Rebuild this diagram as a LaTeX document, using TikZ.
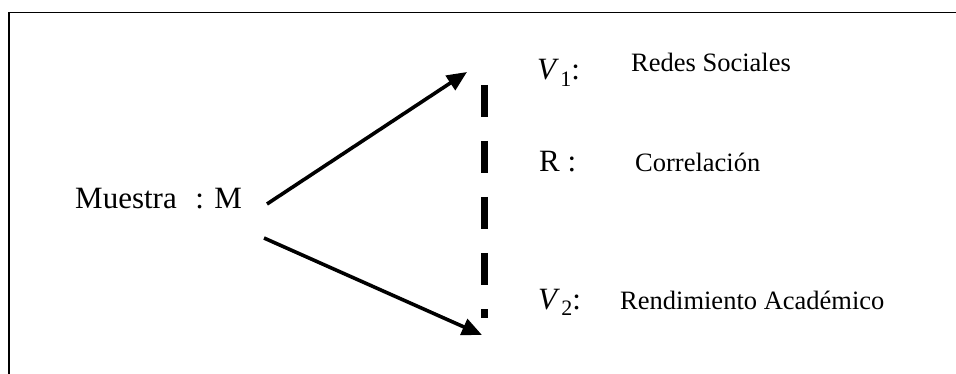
\documentclass[tikz,border=0pt]{standalone}
\usepackage{fontspec}
\setmainfont{Liberation Serif}
\usetikzlibrary{arrows.meta}
\newcommand{\vsub}[1]{\textit{V}\kern0.04em\raisebox{-0.22em}{\fontsize{22}{26}\selectfont #1}}
\begin{document}
\begin{tikzpicture}[x=1pt,y=-1pt,
  big/.style={anchor=base west,inner sep=0pt,font=\fontsize{31}{37}\selectfont},
  small/.style={anchor=base west,inner sep=0pt,font=\fontsize{26.5}{32}\selectfont},
  arr/.style={line width=3.6pt,-{Triangle[length=20pt,width=17pt]}},
  rel/.style={line width=7pt,dash pattern=on 32pt off 24pt}]
\useasboundingbox (0,0) rectangle (956,374);
\draw[line width=1.5pt] (9,390) -- (9,12.5) -- (970,12.5);
\node[big] (m) at (75,209) {Muestra\hspace{0.6em}: M};
\node[big] (v1) at (537,80) {\vsub{1}:};
\node[small] (t1) at (631,72) {Redes Sociales};
\node[big] (r) at (539,172) {R :};
\node[small] (t2) at (635,172) {Correlación};
\node[big] (v2) at (538,309) {\vsub{2}:};
\node[small] (t3) at (620,309) {Rendimiento Académico};
\coordinate (s1) at (267,204);
\coordinate (e1) at (467,72);
\coordinate (s2) at (264,238);
\coordinate (e2) at (482,335);
\coordinate (d1) at (484,85);
\coordinate (d2) at (484,318);
\draw[arr] (s1) -- (e1);
\draw[arr] (s2) -- (e2);
\draw[rel] (d1) -- (d2);
\end{tikzpicture}
\end{document}
